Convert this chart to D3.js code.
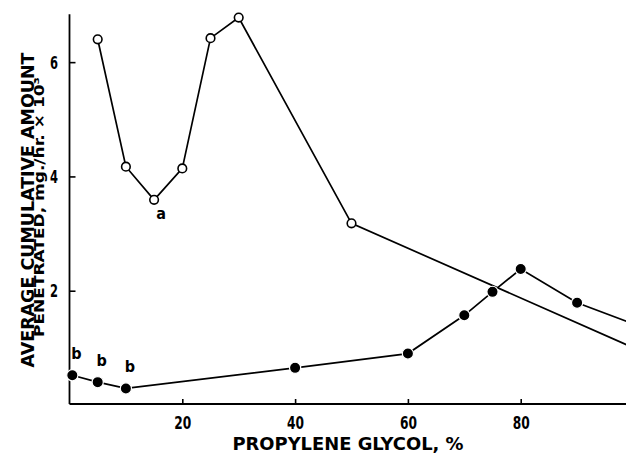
<!DOCTYPE html>
<html>
<head>
<meta charset="utf-8">
<script src="https://cdn.jsdelivr.net/npm/d3@7"></script>
<style>
  html, body { margin: 0; padding: 0; background: #fff; }
  svg { display: block; }
  text { font-family: "DejaVu Sans Condensed", "Liberation Sans Narrow", "DejaVu Sans", sans-serif; font-stretch: condensed; fill: #000; }
</style>
</head>
<body>
<svg id="chart" width="626" height="454"></svg>
<script>
// ---- data ----
const openX = [5, 10, 15, 20, 25, 30, 50, 100];
const openY = [6.40, 4.17, 3.59, 4.14, 6.42, 6.78, 3.18, 1.00];
const filledX = [0.5, 5, 10, 40, 60, 70, 75, 80, 90, 100];
const filledY = [0.52, 0.40, 0.29, 0.65, 0.90, 1.57, 1.98, 2.38, 1.79, 1.42];
const xTicks = [20, 40, 60, 80];
const yTicks = [2, 4, 6];
const openNotes = [{x: 15, y: 3.59, t: "a"}];
const filledNotes = [{x: 0.5, y: 0.52, t: "b"}, {x: 5, y: 0.40, t: "b"}, {x: 10, y: 0.29, t: "b"}];
const xTitle = "PROPYLENE GLYCOL, %";
const yTitle1 = "AVERAGE CUMULATIVE AMOUNT";
const yTitle2 = "PENETRATED, mg./hr. \u00D7 10\u00B3";

// ---- layout ----
const svg = d3.select("#chart");
const x = d3.scaleLinear().domain([0, 100]).range([69.5, 633.5]);
const y = d3.scaleLinear().domain([0, 7]).range([405, 5]);
const yTop = 6.84;

// axes
const gx = svg.append("g").attr("transform", `translate(0,${y(0) - 1})`)
  .call(d3.axisBottom(x).tickValues(xTicks).tickSizeInner(-5).tickSizeOuter(0).tickPadding(12).tickFormat(d3.format("d")));
gx.select(".domain").remove();
gx.selectAll("line").attr("stroke", "#000").attr("stroke-width", 1.6);
gx.selectAll("text").attr("font-size", 18).attr("font-weight", "bold").attr("font-family", null)
  .attr("text-anchor", "start").attr("x", -8.5)
  .attr("textLength", 17).attr("lengthAdjust", "spacingAndGlyphs");

const gy = svg.append("g").attr("transform", `translate(${x(0)},0)`)
  .call(d3.axisLeft(y).tickValues(yTicks).tickSizeInner(-6).tickSizeOuter(0).tickPadding(12).tickFormat(d3.format("d")));
gy.select(".domain").remove();
gy.selectAll("line").attr("stroke", "#000").attr("stroke-width", 1.6);
gy.selectAll("text").attr("font-size", 18.5).attr("font-weight", "bold").attr("font-family", null)
  .attr("text-anchor", "start").attr("x", -19.5)
  .attr("textLength", 8).attr("lengthAdjust", "spacingAndGlyphs");

svg.append("line").attr("x1", x(0)).attr("x2", 626).attr("y1", y(0) - 1).attr("y2", y(0) - 1)
  .attr("stroke", "#000").attr("stroke-width", 1.8);
svg.append("line").attr("x1", x(0)).attr("x2", x(0)).attr("y1", y(0) - 1).attr("y2", y(yTop))
  .attr("stroke", "#000").attr("stroke-width", 1.8);

// lines
const line = d3.line().x(d => x(d[0])).y(d => y(d[1]));
const openData = openX.map((v, i) => [v, openY[i]]);
const filledData = filledX.map((v, i) => [v, filledY[i]]);

svg.append("path").datum(openData).attr("d", line)
  .attr("fill", "none").attr("stroke", "#000").attr("stroke-width", 1.7);
svg.append("path").datum(filledData).attr("d", line)
  .attr("fill", "none").attr("stroke", "#000").attr("stroke-width", 1.7);

svg.selectAll(".open").data(openData).enter().append("circle")
  .attr("cx", d => x(d[0])).attr("cy", d => y(d[1])).attr("r", 4.3)
  .attr("fill", "#fff").attr("stroke", "#000").attr("stroke-width", 1.6);
svg.selectAll(".filled").data(filledData).enter().append("circle")
  .attr("cx", d => x(d[0])).attr("cy", d => y(d[1])).attr("r", 5.6)
  .attr("fill", "#000").attr("stroke", "#fff").attr("stroke-width", 1.2);

// annotations
svg.selectAll(".na").data(openNotes).enter().append("text")
  .attr("x", d => x(d.x) + 7).attr("y", d => y(d.y) + 14)
  .attr("dy", "0.35em").attr("text-anchor", "middle").attr("font-size", 16).attr("font-weight", "bold").text(d => d.t);
svg.selectAll(".nb").data(filledNotes).enter().append("text")
  .attr("x", d => x(d.x) + 4).attr("y", d => y(d.y) - 22)
  .attr("dy", "0.35em").attr("text-anchor", "middle").attr("font-size", 16).attr("font-weight", "bold")
  .text(d => d.t);

// titles
svg.append("text").attr("x", 348).attr("y", 450).attr("text-anchor", "middle")
  .attr("font-size", 18).attr("font-weight", "bold")
  .attr("textLength", 231).attr("lengthAdjust", "spacingAndGlyphs").text(xTitle);

svg.append("text").attr("transform", "translate(33.5,210) rotate(-90)").attr("text-anchor", "middle")
  .attr("font-size", 18).attr("font-weight", "bold")
  .attr("textLength", 315).attr("lengthAdjust", "spacingAndGlyphs").text(yTitle1);
svg.append("text").attr("transform", "translate(44,207) rotate(-90)").attr("text-anchor", "middle")
  .attr("font-size", 13.5).attr("font-weight", "bold")
  .attr("textLength", 260).attr("lengthAdjust", "spacingAndGlyphs").text(yTitle2);
</script>
</body>
</html>
